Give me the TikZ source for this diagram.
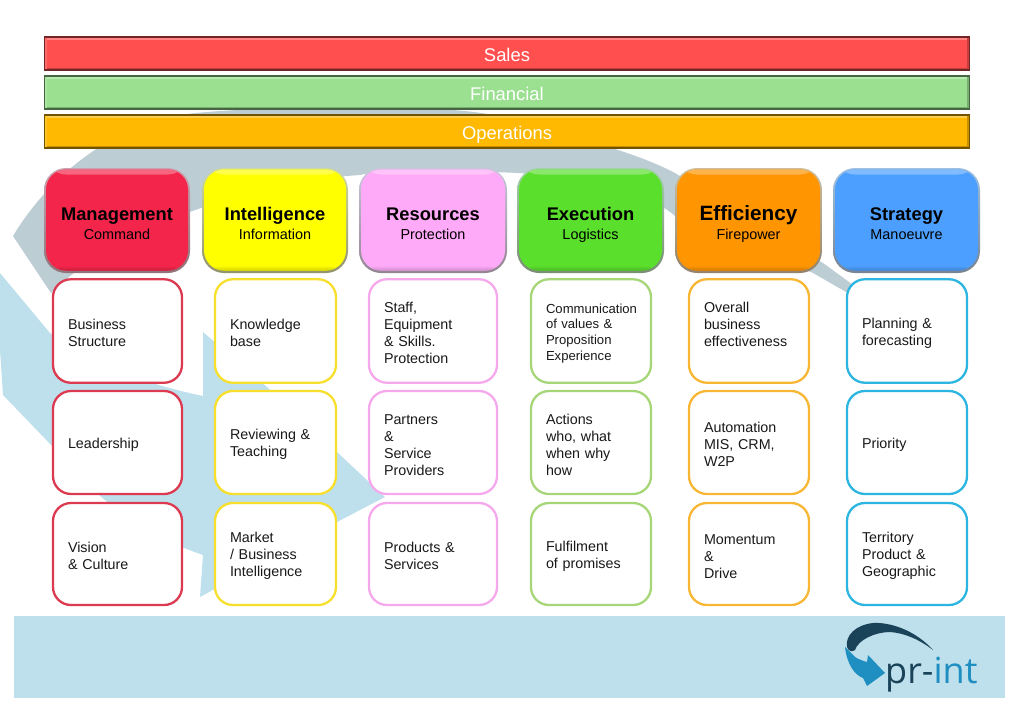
\documentclass[tikz,border=0pt]{standalone}
\usepackage{fontspec}
\setmainfont{Liberation Sans}
\newfontfamily\logofont{Open Sans}
\definecolor{bgblue}{HTML}{BEE0EC}
\definecolor{bggray}{HTML}{BCCDD4}
\definecolor{cSal}{HTML}{FF4F4F}
\definecolor{cFin}{HTML}{9BE091}
\definecolor{cOpe}{HTML}{FFB900}
\definecolor{cMan}{HTML}{F4254A}
\definecolor{cInt}{HTML}{FFFF00}
\definecolor{cRes}{HTML}{FFAAF8}
\definecolor{cExe}{HTML}{5ADF2C}
\definecolor{cEff}{HTML}{FF9500}
\definecolor{cStr}{HTML}{4D9FFF}
\definecolor{lMan}{HTML}{DC3A50}
\definecolor{lInt}{HTML}{F7DF2E}
\definecolor{lRes}{HTML}{F5A9EC}
\definecolor{lExe}{HTML}{A7D678}
\definecolor{lEff}{HTML}{F7B634}
\definecolor{lStr}{HTML}{2CB5E0}
\definecolor{logoDark}{HTML}{1A4258}
\definecolor{logoBlue}{HTML}{1E8FC0}
\tikzset{
  barbox/.style={rectangle,draw=#1!45!black,fill=#1,line width=1.3pt,minimum width=925pt,minimum height=33pt,
    inner sep=0pt,text=white,font=\fontsize{18.4}{22}\selectfont,text height=16pt,text depth=0pt,
    path picture={
      \fill[#1!70!white] (path picture bounding box.north west) rectangle ([yshift=-3pt]path picture bounding box.north east);
      \fill[#1!78!black] (path picture bounding box.south west) rectangle ([yshift=2.5pt]path picture bounding box.south east);
      \fill[#1!78!black] (path picture bounding box.north east) rectangle ([xshift=-2.5pt]path picture bounding box.south east);
      \fill[#1!85!white] (path picture bounding box.north west) rectangle ([xshift=2.5pt]path picture bounding box.south west);
    }},
  headbox/.style={rectangle,rounded corners=20pt,fill=#1,minimum width=142pt,minimum height=101pt,inner sep=0pt,align=center,text width=140pt,text=black,
    path picture={
      \shade[top color=#1!70!white,bottom color=#1] (path picture bounding box.north west) rectangle ([yshift=-5pt]path picture bounding box.north east);
      \shade[top color=#1,bottom color=#1!82!black] ([yshift=5pt]path picture bounding box.south west) rectangle (path picture bounding box.south east);
    }},
  headrim/.style={rounded corners=22pt,top color=#1!25!bggray,bottom color=#1!15!gray},
  detailbox/.style={rectangle,rounded corners=18pt,draw=#1,fill=white,line width=2.3pt,inner ysep=0pt,inner xsep=15pt,align=left,text=black!90,
    font=\fontsize{14.3}{17}\selectfont,execute at begin node={\leavevmode\rule{0pt}{14.5pt}}},
  rowA/.style={minimum height=103.5pt},
  rowB/.style={minimum height=103pt},
  rowC/.style={minimum height=102pt},
  colA/.style={detailbox=lMan,text width=99pt},
  colB/.style={detailbox=lInt,text width=91pt},
  colC/.style={detailbox=lRes,text width=98pt},
  colD/.style={detailbox=lExe,text width=90pt},
  colE/.style={detailbox=lEff,text width=90pt},
  colF/.style={detailbox=lStr,text width=90pt},
}
\newcommand{\headtext}[3]{{\fontsize{#1}{19}\selectfont\bfseries\rule{0pt}{23pt}#2\par}{\fontsize{14.4}{19}\selectfont\rule[-4pt]{0pt}{4pt}#3\par}}
\begin{document}
\begin{tikzpicture}[x=1pt,y=-1pt]
\useasboundingbox (0,0) rectangle (1024,707);
% background sweep
\fill[bggray] (13,236) .. controls (50,175) and (110,128) .. (180,115)
  .. controls (230,107) and (430,102) .. (493,115)
  .. controls (540,125) and (590,140) .. (612,148)
  .. controls (640,157) and (660,165) .. (675,173)
  -- (823,263) -- (860,290) -- (860,300) -- (813,273) -- (675,216)
  .. controls (640,185) and (560,172) .. (480,172)
  .. controls (420,170) and (380,170) .. (360,175)
  .. controls (280,180) and (130,215) .. (51,293) -- cycle;
\fill[bgblue] (0,273) -- (50,333) .. controls (90,365) and (150,385) .. (203,396)
  -- (203,332) -- (267,387) -- (337,452) -- (385,497) -- (337,522) -- (200,597) -- (203,555)
  .. controls (130,530) and (90,490) .. (53,447) -- (3,395) -- (0,350) -- cycle;
\fill[bgblue] (14,616) rectangle (1005,698);
% bars
\node[barbox=cSal] (sales) at (507,53.5) {Sales};
\node[barbox=cFin] (financial) at (507,92.5) {Financial};
\node[barbox=cOpe] (operations) at (507,131.5) {Operations};
% header boxes
\shade[headrim=cMan] (44,168) rectangle (190,273);
\shade[headrim=cInt] (202,168) rectangle (348,273);
\shade[headrim=cRes] (359,168) rectangle (507,273);
\shade[headrim=cExe] (517,168) rectangle (664,273);
\shade[headrim=cEff] (675,168) rectangle (822,273);
\shade[headrim=cStr] (833,168) rectangle (980,273);
\node[headbox=cMan] (management) at (117,220) {\headtext{18.3}{Management}{Command}};
\node[headbox=cInt] (intelligence) at (275,220) {\headtext{18.3}{Intelligence}{Information}};
\node[headbox=cRes,minimum width=144pt] (resources) at (433,220) {\headtext{18.3}{Resources}{Protection}};
\node[headbox=cExe,minimum width=143pt] (execution) at (590.5,220) {\headtext{18.3}{Execution}{Logistics}};
\node[headbox=cEff,minimum width=143pt] (efficiency) at (748.5,220) {\headtext{20.7}{Efficiency}{Firepower}};
\node[headbox=cStr,minimum width=143pt] (strategy) at (906.5,220) {\headtext{18.3}{Strategy}{Manoeuvre}};
% detail boxes
\node[colA,rowA] (a1) at (117.5,331) {Business\\Structure};
\node[colA,rowB] (a2) at (117.5,442.5) {Leadership};
\node[colA,rowC] (a3) at (117.5,554) {Vision\\\& Culture};
\node[colB,rowA] (b1) at (275.5,331) {Knowledge\\base};
\node[colB,rowB] (b2) at (275.5,442.5) {Reviewing \&\\Teaching};
\node[colB,rowC] (b3) at (275.5,554) {Market\\/ Business\\Intelligence};
\node[colC,rowA] (c1) at (433,331) {Staff,\\Equipment\\\& Skills.\\Protection};
\node[colC,rowB] (c2) at (433,442.5) {Partners\\\&\\Service\\Providers};
\node[colC,rowC] (c3) at (433,554) {Products \&\\Services};
\node[colD,rowA,font=\fontsize{13.1}{15.8}\selectfont] (d1) at (591,331) {Communication\\of values \&\\Proposition\\Experience};
\node[colD,rowB] (d2) at (591,442.5) {Actions\\who, what\\when why\\how};
\node[colD,rowC] (d3) at (591,554) {Fulfilment\\of promises};
\node[colE,rowA] (e1) at (749,331) {Overall\\business\\effectiveness\\\mbox{}};
\node[colE,rowB] (e2) at (749,442.5) {Automation\\MIS, CRM,\\W2P};
\node[colE,rowC] (e3) at (749,554) {Momentum\\\&\\Drive};
\node[colF,rowA] (f1) at (907,331) {Planning \&\\forecasting};
\node[colF,rowB] (f2) at (907,442.5) {Priority};
\node[colF,rowC] (f3) at (907,554) {Territory\\Product \&\\Geographic};
% logo
\fill[logoDark] (933,650) .. controls (915,630) and (890,622) .. (873,623)
  .. controls (855,625) and (845,636) .. (847,647)
  .. controls (849,652) and (852,652) .. (855,650)
  .. controls (858,640) and (875,632) .. (890,632)
  .. controls (905,633) and (920,640) .. (933,650) -- cycle;
\fill[logoBlue] (845,647) -- (855,657) .. controls (858,659) and (863,661) .. (867,662)
  -- (868,655) -- (885,673) -- (867,686) -- (863,678)
  .. controls (855,675) and (847,665) .. (845,647) -- cycle;
\node[anchor=base west,inner sep=0pt,font=\logofont\fontsize{36}{36}\selectfont] (logo) at (885,683)
  {\textcolor{logoDark}{pr-}\textcolor{logoBlue}{int}};
\end{tikzpicture}
\end{document}
